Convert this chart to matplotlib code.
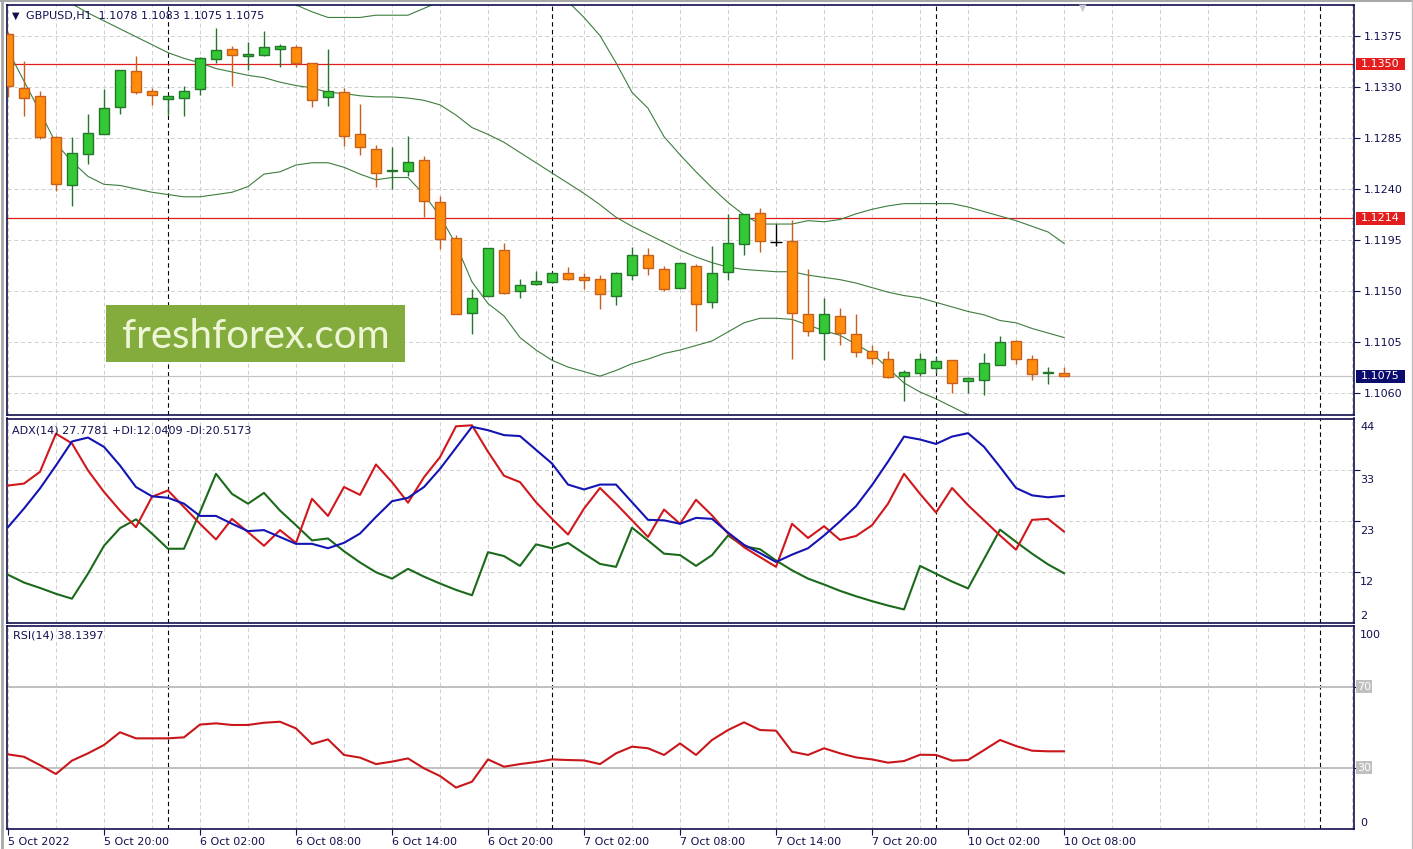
import matplotlib
matplotlib.use('Agg')
import matplotlib.pyplot as plt
import matplotlib.transforms as mtransforms
from matplotlib.patches import Rectangle
from matplotlib.lines import Line2D
import numpy as np

nan = float('nan')

# GBPUSD H1 candles, 5 Oct 14:00 .. 10 Oct 08:00 (bar 48 is hidden under the mouse cursor)
opens = [1.1376, 1.1329, 1.1322, 1.1286, 1.1243, 1.1271, 1.1288, 1.1312, 1.1344, 1.1326,
         1.1319, 1.1320, 1.1328, 1.1354, 1.1363, 1.1357, 1.1358, 1.1363, 1.1365, 1.1351,
         1.1321, 1.1325, 1.1288, 1.1275, 1.1256, 1.1256, 1.1265, 1.1228, 1.1197, 1.1131,
         1.1146, 1.1186, 1.1150, 1.1156, 1.1158, 1.1166, 1.1162, 1.1161, 1.1146, 1.1164,
         1.1182, 1.1169, 1.1153, 1.1172, 1.1140, 1.1167, 1.1191, 1.1219, nan, 1.1194,
         1.1130, 1.1113, 1.1128, 1.1112, 1.1097, 1.1090, 1.1075, 1.1078, 1.1082, 1.1089,
         1.1071, 1.1072, 1.1085, 1.1106, 1.1090, 1.1078, 1.1078]
highs = [1.1378, 1.1353, 1.1326, 1.1287, 1.1286, 1.1306, 1.1328, 1.1345, 1.1357, 1.1329,
         1.1323, 1.1331, 1.1356, 1.1382, 1.1366, 1.1369, 1.1379, 1.1368, 1.1367, 1.1351,
         1.1363, 1.1329, 1.1315, 1.1279, 1.1277, 1.1287, 1.1269, 1.1234, 1.1199, 1.1152,
         1.1188, 1.1192, 1.1161, 1.1168, 1.1167, 1.1171, 1.1166, 1.1164, 1.1167, 1.1189,
         1.1188, 1.1172, 1.1175, 1.1174, 1.1190, 1.1218, 1.1218, 1.1223, nan, 1.1213,
         1.1169, 1.1144, 1.1135, 1.1130, 1.1102, 1.1097, 1.1080, 1.1095, 1.1092, 1.1089,
         1.1074, 1.1095, 1.1110, 1.1107, 1.1094, 1.1083, 1.1083]
lows = [1.1321, 1.1304, 1.1284, 1.1238, 1.1225, 1.1262, 1.1288, 1.1306, 1.1324, 1.1314,
        1.1305, 1.1304, 1.1323, 1.1351, 1.1331, 1.1345, 1.1357, 1.1347, 1.1347, 1.1312,
        1.1313, 1.1278, 1.1270, 1.1242, 1.1240, 1.1251, 1.1215, 1.1187, 1.1130, 1.1112,
        1.1146, 1.1147, 1.1144, 1.1155, 1.1157, 1.1160, 1.1152, 1.1134, 1.1138, 1.1160,
        1.1164, 1.1150, 1.1153, 1.1115, 1.1135, 1.1160, 1.1182, 1.1184, nan, 1.1090,
        1.1110, 1.1089, 1.1102, 1.1092, 1.1086, 1.1073, 1.1053, 1.1075, 1.1078, 1.1060,
        1.1060, 1.1058, 1.1085, 1.1086, 1.1072, 1.1068, 1.1075]
closes = [1.1331, 1.1320, 1.1286, 1.1244, 1.1272, 1.1289, 1.1311, 1.1345, 1.1325, 1.1323,
          1.1322, 1.1326, 1.1355, 1.1362, 1.1358, 1.1359, 1.1365, 1.1366, 1.1351, 1.1318,
          1.1326, 1.1287, 1.1277, 1.1254, 1.1257, 1.1264, 1.1229, 1.1196, 1.1130, 1.1144,
          1.1188, 1.1148, 1.1155, 1.1159, 1.1166, 1.1161, 1.1160, 1.1147, 1.1166, 1.1182,
          1.1170, 1.1152, 1.1175, 1.1139, 1.1166, 1.1192, 1.1218, 1.1194, nan, 1.1131,
          1.1115, 1.1130, 1.1113, 1.1096, 1.1091, 1.1074, 1.1079, 1.1090, 1.1088, 1.1069,
          1.1073, 1.1087, 1.1105, 1.1090, 1.1077, 1.1079, 1.1075]

cursor_bar = 48
cursor_low, cursor_high, cursor_cross = 1.1190, 1.1209, 1.1193

# Bollinger bands (nan where the band is outside the window)
bb_upper = [nan, nan, nan, nan, nan, nan, nan, nan, nan, nan,
            nan, nan, nan, nan, nan, nan, nan, nan, 1.1402, 1.1396,
            1.1391, 1.1391, 1.1391, 1.1393, 1.1393, 1.1393, 1.1399, 1.1405, nan, nan,
            nan, nan, nan, nan, nan, 1.1405, 1.1391, 1.1375, 1.1351, 1.1325,
            1.1311, 1.1286, 1.1270, 1.1255, 1.1241, 1.1228, 1.1217, 1.1209, 1.1209, 1.1209,
            1.1212, 1.1211, 1.1213, 1.1218, 1.1222, 1.1225, 1.1227, 1.1227, 1.1227, 1.1227,
            1.1224, 1.1220, 1.1216, 1.1212, 1.1207, 1.1202, 1.1192]
bb_middle = [nan, nan, nan, nan, 1.1403, 1.1395, 1.1388, 1.1381, 1.1374, 1.1367,
             1.1360, 1.1355, 1.1351, 1.1346, 1.1343, 1.1340, 1.1338, 1.1334, 1.1331, 1.1329,
             1.1325, 1.1324, 1.1322, 1.1321, 1.1321, 1.1320, 1.1318, 1.1314, 1.1305, 1.1294,
             1.1288, 1.1281, 1.1272, 1.1263, 1.1254, 1.1245, 1.1236, 1.1226, 1.1215, 1.1207,
             1.1200, 1.1193, 1.1186, 1.1180, 1.1175, 1.1171, 1.1169, 1.1168, 1.1167, 1.1167,
             1.1164, 1.1162, 1.1160, 1.1157, 1.1153, 1.1149, 1.1146, 1.1144, 1.1140, 1.1136,
             1.1132, 1.1129, 1.1124, 1.1122, 1.1117, 1.1113, 1.1109]
bb_lower = [1.1362, 1.1335, 1.1308, 1.1280, 1.1264, 1.1251, 1.1244, 1.1243, 1.1240, 1.1237,
            1.1235, 1.1233, 1.1233, 1.1235, 1.1237, 1.1242, 1.1253, 1.1255, 1.1261, 1.1263,
            1.1263, 1.1259, 1.1253, 1.1248, 1.1250, 1.1250, 1.1235, 1.1216, 1.1191, 1.1158,
            1.1139, 1.1128, 1.1109, 1.1098, 1.1089, 1.1083, 1.1079, 1.1075, 1.1080, 1.1086,
            1.1090, 1.1095, 1.1098, 1.1102, 1.1106, 1.1114, 1.1122, 1.1126, 1.1126, 1.1125,
            1.1120, 1.1115, 1.1111, 1.1103, 1.1095, 1.1082, 1.1069, 1.1061, 1.1055, 1.1048,
            1.1041, 1.1035, nan, nan, nan, nan, nan]

# ADX(14)
adx = [21.4, 25.2, 29.3, 34.0, 38.9, 39.7, 37.8, 34.0, 29.6, 27.7,
       27.4, 26.2, 23.7, 23.7, 22.1, 20.6, 20.8, 19.4, 18.0, 18.0,
       17.1, 18.2, 20.1, 23.5, 26.7, 27.4, 29.6, 33.3, 37.6, 41.9,
       41.2, 40.2, 40.0, 37.2, 34.4, 30.1, 29.1, 30.1, 30.1, 26.5,
       22.9, 22.8, 22.1, 23.3, 23.1, 20.3, 17.8, 16.1, 14.3, 15.8,
       17.1, 19.7, 22.6, 25.7, 30.0, 34.8, 39.9, 39.3, 38.4, 39.9,
       40.6, 37.8, 33.7, 29.4, 27.9, 27.5, 27.8]
minus_di = [29.9, 30.3, 32.7, 40.5, 38.5, 33.0, 28.6, 24.8, 21.4, 27.6,
            28.9, 25.5, 22.1, 18.9, 23.1, 20.4, 17.6, 20.8, 18.2, 27.2,
            23.7, 29.6, 28.0, 34.2, 30.6, 26.4, 31.6, 35.7, 42.0, 42.2,
            36.8, 31.9, 30.6, 26.5, 23.1, 19.9, 25.2, 29.4, 26.2, 22.8,
            19.4, 25.0, 22.1, 27.0, 23.8, 20.1, 17.3, 15.3, 13.3, 22.1,
            19.2, 21.6, 18.8, 19.6, 21.8, 26.2, 32.3, 28.2, 24.4, 29.4,
            25.9, 22.8, 19.7, 16.8, 22.9, 23.1, 20.5]
plus_di = [11.7, 10.1, 9.0, 7.8, 6.8, 11.9, 17.6, 21.2, 23.0, 20.1,
           17.0, 17.0, 24.5, 32.3, 28.2, 26.2, 28.4, 24.8, 21.8, 18.7,
           19.1, 16.5, 14.2, 12.2, 10.9, 12.9, 11.3, 9.9, 8.6, 7.5,
           16.3, 15.5, 13.5, 17.9, 17.1, 18.2, 16.0, 13.9, 13.3, 21.3,
           18.7, 16.0, 15.7, 13.5, 15.7, 19.7, 17.5, 16.9, 14.6, 12.6,
           10.9, 9.7, 8.4, 7.3, 6.3, 5.4, 4.6, 13.5, 11.9, 10.3,
           8.9, 14.9, 20.9, 18.4, 16.0, 13.8, 12.0]

# RSI(14)
rsi = [36.6, 35.4, 31.3, 26.9, 33.5, 37.1, 41.2, 47.5, 44.5, 44.5,
       44.5, 45.0, 51.3, 51.9, 51.1, 51.1, 52.2, 52.7, 49.4, 41.7,
       44.0, 36.3, 35.0, 31.8, 33.0, 34.6, 29.7, 25.9, 20.2, 23.1,
       34.1, 30.5, 31.8, 32.8, 34.1, 33.8, 33.6, 31.8, 37.1, 40.4,
       39.6, 36.3, 42.0, 36.3, 43.7, 48.6, 52.4, 48.6, 48.3, 37.9,
       36.3, 39.6, 37.1, 35.1, 34.1, 32.5, 33.3, 36.4, 36.3, 33.5,
       33.8, 38.7, 43.7, 40.7, 38.4, 38.1, 38.1]

price_ticks = [1.1060, 1.1105, 1.1150, 1.1195, 1.1240, 1.1285, 1.1330, 1.1375]
red_levels = [1.1350, 1.1214]
bid = 1.1075
adx_grid = [12.2, 22.6, 33.0]
adx_labels = ['12', '23', '33']
rsi_levels = [30, 70]
day_breaks = [10, 34, 58, 82]
time_bars = [0, 6, 12, 18, 24, 30, 36, 42, 48, 54, 60, 66]
time_labels = ['5 Oct 2022', '5 Oct 20:00', '6 Oct 02:00', '6 Oct 08:00', '6 Oct 14:00',
               '6 Oct 20:00', '7 Oct 02:00', '7 Oct 08:00', '7 Oct 14:00', '7 Oct 20:00',
               '10 Oct 02:00', '10 Oct 08:00']

navy = '#101050'
grid_c = '#cfcfcf'
bull_face, bull_edge = '#34c934', '#23762a'
bear_face, bear_edge = '#ff8c0a', '#c6601c'
band_c = '#3d7d3d'

plt.rcParams['font.family'] = 'DejaVu Sans'
W, H = 1413, 849
fig = plt.figure(figsize=(W / 100, H / 100), dpi=100)


def panel(top, bottom):
    return fig.add_axes([7 / W, 1 - bottom / H, 1347 / W, (bottom - top) / H])


ax = panel(5, 415.5)
ax_adx = panel(418.5, 622.7)
ax_rsi = panel(625.5, 828.5)

for a in (ax, ax_adx, ax_rsi):
    a.set_xlim(-0.06, 84.12)
    for s in a.spines.values():
        s.set_color(navy)
        s.set_linewidth(1.2)
    a.yaxis.tick_right()
    a.tick_params(axis='x', bottom=False, labelbottom=False)
    a.tick_params(axis='y', length=4, width=0.8, color=navy, labelcolor=navy,
                  labelsize=8, pad=3)
    for b in range(0, 85, 3):
        a.axvline(b, color=grid_c, lw=0.7, ls=(0, (4, 3)), zorder=0)
    for b in day_breaks:
        a.axvline(b, color='black', lw=0.8, ls=(0, (4, 3)), zorder=1)

# ---- price panel
ax.set_ylim(1.104033, 1.140198)
ax.set_yticks(price_ticks)
ax.set_yticklabels([f'{p:.4f}' for p in price_ticks])
for p in price_ticks:
    ax.axhline(p, color=grid_c, lw=0.7, ls=(0, (4, 3)), zorder=0)
ax.axhline(bid, color='#c4c4c4', lw=0.9, zorder=1)
for lv in red_levels:
    ax.axhline(lv, color='#e01c1c', lw=0.9, zorder=2)

x = np.arange(len(opens))
ax.plot(x, bb_upper, color=band_c, lw=0.8, zorder=2)
ax.plot(x, bb_middle, color=band_c, lw=0.8, zorder=2)
ax.plot(x, bb_lower, color=band_c, lw=0.8, zorder=2)

o, h, l, c = map(np.array, (opens, highs, lows, closes))
ok = ~np.isnan(o)
up = ok & (c >= o)
dn = ok & (c < o)
for m, face, edge in ((up, bull_face, bull_edge), (dn, bear_face, bear_edge)):
    ax.vlines(x[m], l[m], h[m], color=edge, lw=1.0, zorder=3)
    ax.bar(x[m], np.abs(c - o)[m], bottom=np.minimum(o, c)[m], width=0.64,
           color=face, edgecolor=edge, linewidth=1.0, zorder=4)

# mouse cursor sitting on the chart
ax.vlines(cursor_bar, cursor_low, cursor_high, color='black', lw=1.0, zorder=5)
ax.hlines(cursor_cross, cursor_bar - 0.35, cursor_bar + 0.35, color='black', lw=1.0, zorder=5)

tr = mtransforms.blended_transform_factory(ax.transAxes, ax.transData)
for lv, face in ((red_levels[0], '#e41e1e'), (red_levels[1], '#e41e1e'), (bid, '#0c0c6e')):
    ax.add_patch(Rectangle((1.0015, lv - 0.00056), 0.0364, 0.00112, transform=tr,
                           facecolor=face, edgecolor='none', clip_on=False, zorder=6))
    ax.text(1.0015 + 0.0182, lv, f'{lv:.4f}', transform=tr, color='white', fontsize=8,
            ha='center', va='center', clip_on=False, zorder=7)

ax.add_patch(Rectangle((0.0735, 0.1303), 0.222, 0.1389, transform=ax.transAxes,
                       facecolor='#84ac3c', edgecolor='none', zorder=6))
ax.text(0.1845, 0.1644, 'freshforex.com', transform=ax.transAxes, family='Lato',
        fontsize=29, color='#edf6d6', ha='center', va='baseline', zorder=7)

fig.text(16 / W, 1 - 15.5 / H, '▼', fontsize=7, color=navy, ha='center', va='center')
fig.text(26.5 / W, 1 - 15.5 / H,
         f'GBPUSD,H1  {opens[-1]:.4f} {highs[-1]:.4f} {lows[-1]:.4f} {closes[-1]:.4f}',
         fontsize=8, color=navy, va='center')
fig.text(1083 / W, 1 - 8 / H, '▼', fontsize=7, color='#c8c8d4', ha='center', va='center')

# ---- ADX panel
ax_adx.set_ylim(1.90, 43.59)
ax_adx.set_yticks(adx_grid)
ax_adx.set_yticklabels([])
for v in adx_grid:
    ax_adx.axhline(v, color=grid_c, lw=0.7, ls=(0, (4, 3)), zorder=0)
ax_adx.plot(x, plus_di, color='#1b6a1b', lw=1.5, zorder=3)
ax_adx.plot(x, minus_di, color='#d0181c', lw=1.5, zorder=3)
ax_adx.plot(x, adx, color='#1414b4', lw=1.5, zorder=4)
tr_adx = mtransforms.blended_transform_factory(ax_adx.transAxes, ax_adx.transData)
for v, s in zip(adx_grid, adx_labels):
    ax_adx.text(1.0045, v, s, transform=mtransforms.offset_copy(tr_adx, fig, y=-10, units='dots'),
                fontsize=8, color=navy, va='center', clip_on=False)
ax_adx.text(1.0045, 1.0, '44', transform=mtransforms.offset_copy(ax_adx.transAxes, fig, y=-9, units='dots'),
            fontsize=8, color=navy, va='center', clip_on=False)
ax_adx.text(1.0045, 0.0, '2', transform=mtransforms.offset_copy(ax_adx.transAxes, fig, y=7, units='dots'),
            fontsize=8, color=navy, va='center', clip_on=False)
ax_adx.text(0.0037, 0.942, 'ADX(14) 27.7781 +DI:12.0409 -DI:20.5173', transform=ax_adx.transAxes,
            fontsize=8, color=navy, va='center')

# ---- RSI panel
ax_rsi.set_ylim(0, 100.2)
ax_rsi.set_yticks(rsi_levels)
ax_rsi.set_yticklabels([])
for v in rsi_levels:
    ax_rsi.axhline(v, color='#c0c0c0', lw=1.4, zorder=1)
ax_rsi.plot(x, rsi, color='#c8161a', lw=1.5, zorder=3)
tr_rsi = mtransforms.blended_transform_factory(ax_rsi.transAxes, ax_rsi.transData)
for v in rsi_levels:
    ax_rsi.add_patch(Rectangle((1.0015, v - 3.2), 0.0119, 6.4, transform=tr_rsi,
                               facecolor='#c0c0c0', edgecolor='none', clip_on=False, zorder=6))
    ax_rsi.text(1.0015 + 0.006, v, str(v), transform=tr_rsi, color='white', fontsize=8,
                ha='center', va='center', clip_on=False, zorder=7)
ax_rsi.text(1.0045, 1.0, '100', transform=mtransforms.offset_copy(ax_rsi.transAxes, fig, y=-9, units='dots'),
            fontsize=8, color=navy, va='center', clip_on=False)
ax_rsi.text(1.0045, 0.0, '0', transform=mtransforms.offset_copy(ax_rsi.transAxes, fig, y=6, units='dots'),
            fontsize=8, color=navy, va='center', clip_on=False)
ax_rsi.text(0.0041, 0.95, 'RSI(14) 38.1397', transform=ax_rsi.transAxes,
            fontsize=8, color=navy, va='center')

ax_rsi.set_xticks(time_bars)
ax_rsi.set_xticklabels(time_labels, ha='left')
ax_rsi.tick_params(axis='x', bottom=True, labelbottom=True, length=4, width=0.8,
                   color=navy, labelcolor=navy, labelsize=8, pad=2)

# window frame
fig.add_artist(Line2D([1.5 / W, 1.5 / W], [0, 1], color='#a8a8a8', lw=2))
fig.add_artist(Line2D([0, 1], [1 - 1 / H, 1 - 1 / H], color='#a8a8a8', lw=1.5))
fig.add_artist(Line2D([1 - 1.5 / W, 1 - 1.5 / W], [0, 1], color='#c0c0c0', lw=1))

fig.savefig('out.png', dpi=100, facecolor='white')
